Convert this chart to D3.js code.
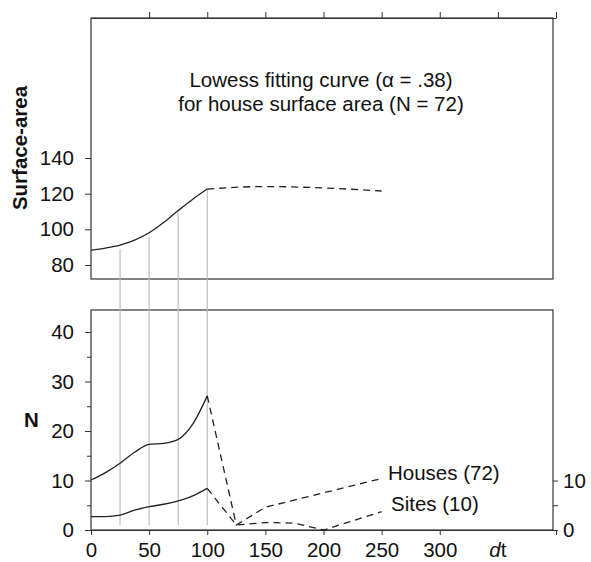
<!DOCTYPE html>
<html>
<head>
<meta charset="utf-8">
<script src="https://cdn.jsdelivr.net/npm/d3@7"></script>
<style>
  body { margin: 0; background: #fff; }
  text { font-family: "Liberation Sans", Arial, Helvetica, sans-serif; }
</style>
</head>
<body>
<svg></svg>
<script>
// lowess fit, house surface area
const dtSolid = [0, 12.5, 25, 37.5, 50, 62.5, 75, 87.5, 100];
const areaSolid = [88.3, 89.5, 91.2, 94.0, 98.1, 103.8, 110.5, 116.9, 122.6];
const dtAreaDash = [100, 150, 200, 250];
const areaDash = [122.6, 124.0, 123.2, 121.5];

// counts per dt
const housesSolid = [10.1, 11.6, 13.5, 15.7, 17.3, 17.5, 18.3, 21.4, 27.1];
const sitesSolid = [2.7, 2.7, 3.0, 4.0, 4.7, 5.2, 5.9, 6.9, 8.4];
const dtHousesDash = [100, 125, 150, 250];
const housesDash = [27.1, 1.0, 4.6, 10.4];
const dtSitesDash = [100, 125, 150, 175, 200, 250];
const sitesDash = [8.4, 1.0, 1.5, 1.4, 0, 3.7];

// gray guide lines (dt, top in surface-area units)
const guideDt = [25, 50, 75, 100];
const guideTop = [89.0, 96.0, 109.5, 122.6];
const guideBottom = 1;

// tick labels
const xLabels = [0, 50, 100, 150, 200, 250, 300];
const xTicks = [0, 50, 100, 150, 200, 250, 300, 400];
const xTopTicks = [50, 100, 150, 200, 250, 300, 350, 400];
const areaTicks = [80, 100, 120, 140];
const nTicks = [0, 10, 20, 30, 40];
const nMinor = [5, 15, 25, 35];
const rightTicks = [0, 5, 10];
const rightLabels = [0, 10];

const width = 591, height = 562;
const left = 91, right = 553;
const top1 = 18, bottom1 = 279;
const top2 = 310, bottom2 = 530;
const ink = "#222";
const frame = "#333";
const fontSize = "20.5px";

const svg = d3.select("svg")
  .attr("width", width)
  .attr("height", height);

const x = d3.scaleLinear().domain([0, 400]).range([left, 556]);
const yArea = d3.scaleLinear().domain([80, 140]).range([265, 158]);
const yN = d3.scaleLinear().domain([0, 40]).range([530, 332]);

const zip = (a, b) => a.map((v, i) => [v, b[i]]);

// frames
[[top1, bottom1], [top2, bottom2]].forEach(([t, b]) => {
  svg.append("rect")
    .attr("x", left).attr("y", t)
    .attr("width", right - left).attr("height", b - t)
    .attr("fill", "none")
    .attr("stroke", frame)
    .attr("stroke-width", 1.2);
});

// guide lines through both panels
svg.append("g").selectAll("line")
  .data(zip(guideDt, guideTop)).enter().append("line")
  .attr("x1", d => x(d[0])).attr("x2", d => x(d[0]))
  .attr("y1", d => yArea(d[1]))
  .attr("y2", yN(guideBottom))
  .attr("stroke", "#b8b8b8")
  .attr("stroke-width", 1.1);

const styleText = sel => sel
  .attr("font-size", fontSize).attr("fill", "#111")
  .style("font-family", "'Liberation Sans', Arial, sans-serif");

// top axis of upper panel
const topAxis = svg.append("g")
  .attr("transform", `translate(0, ${top1})`)
  .call(d3.axisTop(x).tickValues(xTopTicks).tickSize(6).tickSizeOuter(0).tickFormat(""));
topAxis.select(".domain").attr("stroke", frame).attr("stroke-width", 1.2);
topAxis.selectAll("line").attr("stroke", frame);

// left axis upper panel
const areaAxis = svg.append("g")
  .attr("transform", `translate(${left}, 0)`)
  .call(d3.axisLeft(yArea).tickValues(areaTicks).tickSize(6).tickPadding(11));
areaAxis.select(".domain").remove();
areaAxis.selectAll("line").attr("stroke", frame);
styleText(areaAxis.selectAll("text"));

// left axis lower panel
const nAxis = svg.append("g")
  .attr("transform", `translate(${left}, 0)`)
  .call(d3.axisLeft(yN).tickValues(nTicks).tickSize(6).tickPadding(11));
nAxis.select(".domain").remove();
nAxis.selectAll("line").attr("stroke", frame);
styleText(nAxis.selectAll("text"));

const nMinorAxis = svg.append("g")
  .attr("transform", `translate(${left}, 0)`)
  .call(d3.axisLeft(yN).tickValues(nMinor).tickSize(4).tickFormat(""));
nMinorAxis.select(".domain").remove();
nMinorAxis.selectAll("line").attr("stroke", frame);

// right axis lower panel
const rAxis = svg.append("g")
  .attr("transform", `translate(${right}, 0)`)
  .call(d3.axisRight(yN).tickValues(rightTicks).tickSize(5).tickPadding(5)
    .tickFormat(d => rightLabels.includes(d) ? d : ""));
rAxis.select(".domain").remove();
rAxis.selectAll("line").attr("stroke", frame);
styleText(rAxis.selectAll("text"));

// bottom axis lower panel (labels nudged up so they stay inside the page)
const xAxis = svg.append("g")
  .attr("transform", `translate(0, ${bottom2})`)
  .call(d3.axisBottom(x).tickValues(xTicks).tickSize(5).tickSizeOuter(0)
    .tickFormat(d => xLabels.includes(d) ? d : ""));
xAxis.select(".domain").attr("stroke", frame).attr("stroke-width", 1.2);
xAxis.selectAll("line").attr("stroke", frame);
styleText(xAxis.selectAll("text").attr("y", 27).attr("dy", 0));

// dt label
const dtLabel = svg.append("text")
  .attr("x", x(350)).attr("y", 557)
  .attr("text-anchor", "middle")
  .attr("font-size", fontSize).attr("fill", "#111");
dtLabel.append("tspan").attr("font-style", "italic").text("d");
dtLabel.append("tspan").text("t");

// curves
const smooth = d3.line().x(d => x(d[0])).curve(d3.curveMonotoneX);
const straight = d3.line().x(d => x(d[0]));

const drawLine = (gen, yScale, pts, dashed) => {
  svg.append("path")
    .attr("d", gen.y(d => yScale(d[1]))(pts))
    .attr("fill", "none")
    .attr("stroke", ink)
    .attr("stroke-width", 1.3)
    .attr("stroke-dasharray", dashed ? "7,5" : null);
};

drawLine(smooth, yArea, zip(dtSolid, areaSolid), false);
drawLine(smooth, yArea, zip(dtAreaDash, areaDash), true);
drawLine(smooth, yN, zip(dtSolid, housesSolid), false);
drawLine(smooth, yN, zip(dtSolid, sitesSolid), false);
drawLine(straight, yN, zip(dtHousesDash, housesDash), true);
drawLine(straight, yN, zip(dtSitesDash, sitesDash), true);

// series labels
svg.append("text")
  .attr("x", 388).attr("y", 480)
  .attr("font-size", fontSize).attr("fill", "#111")
  .text("Houses (72)");
svg.append("text")
  .attr("x", 391).attr("y", 511)
  .attr("font-size", fontSize).attr("fill", "#111")
  .text("Sites (10)");

// panel note
svg.append("text")
  .attr("x", 321).attr("y", 87)
  .attr("text-anchor", "middle")
  .attr("font-size", fontSize).attr("fill", "#111")
  .text("Lowess fitting curve (\u03b1 = .38)");
svg.append("text")
  .attr("x", 321).attr("y", 111)
  .attr("text-anchor", "middle")
  .attr("font-size", fontSize).attr("fill", "#111")
  .text("for house surface area (N = 72)");

// axis titles
svg.append("text")
  .attr("transform", "translate(27, 148) rotate(-90)")
  .attr("text-anchor", "middle")
  .attr("font-size", fontSize)
  .attr("font-weight", "bold")
  .attr("fill", "#111")
  .text("Surface-area");
svg.append("text")
  .attr("x", 31.5).attr("y", 427)
  .attr("text-anchor", "middle")
  .attr("font-size", fontSize)
  .attr("font-weight", "bold")
  .attr("fill", "#111")
  .text("N");
</script>
</body>
</html>
